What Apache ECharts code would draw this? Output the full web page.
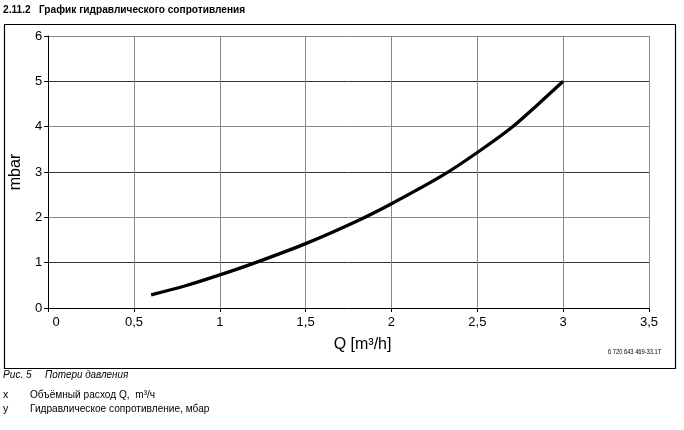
<!DOCTYPE html>
<html>
<head>
<meta charset="utf-8">
<script src="https://cdn.jsdelivr.net/npm/echarts@6/dist/echarts.min.js"></script>
<style>
  html, body { margin: 0; padding: 0; background: #fff; }
  #chart { width: 684px; height: 430px; }
</style>
</head>
<body>
<div id="chart"></div>
<script>
// расход Q, m3/h  и  сопротивление, mbar
var flowQ = [0.6, 0.8, 1.0, 1.2, 1.5, 1.8, 2.0, 2.3, 2.5, 2.7, 2.85, 3.0]
var pressureLoss = [0.29, 0.49, 0.73, 0.99, 1.42, 1.92, 2.30, 2.93, 3.43, 3.98, 4.48, 5.0]
var xTicks = [0, 0.5, 1, 1.5, 2, 2.5, 3, 3.5]
var yTicks = [0, 1, 2, 3, 4, 5, 6]

var font = 'Liberation Sans, Arial, sans-serif'
var chart = echarts.init(document.getElementById('chart'))

var points = flowQ.map(function (q, i) { return [q, pressureLoss[i]] })

// подпись под графиком, чуть сжатая по ширине
function caption(text, x, y, style, sx) {
    return {
        type: 'text', x: x, y: y, scaleX: sx || 0.92,
        style: { text: text, font: style + ' "Liberation Sans", sans-serif', fill: '#000' }
    }
}

chart.setOption({
    animation: false,
    grid: { left: 47, right: 35, top: 36, bottom: 122, containLabel: false },
    xAxis: {
        type: 'value',
        min: xTicks[0],
        max: xTicks[xTicks.length - 1],
        interval: 0.5,
        name: 'Q [m³/h]',
        nameLocation: 'middle',
        nameGap: 29,
        nameTextStyle: { fontFamily: font, fontSize: 16, color: '#000', padding: [0, 0, 0, 28] },
        axisLine: { lineStyle: { color: '#000', width: 1 } },
        axisTick: { show: true, length: 4, lineStyle: { color: '#000' } },
        axisLabel: {
            fontFamily: font, fontSize: 13, color: '#000', margin: 8,
            formatter: function (v) {
                if (v === 0) return '{z|0}'
                return String(v).replace('.', ',')
            },
            rich: { z: { fontFamily: font, fontSize: 13, color: '#000', padding: [0, 0, 0, 16] } }
        },
        splitLine: { show: true, lineStyle: { color: '#888', width: 1 } }
    },
    yAxis: {
        type: 'value',
        min: yTicks[0],
        max: yTicks[yTicks.length - 1],
        interval: 1,
        name: 'mbar',
        nameLocation: 'middle',
        nameRotate: 90,
        nameGap: 23,
        nameTextStyle: { fontFamily: font, fontSize: 16, color: '#000' },
        axisLine: { show: true, lineStyle: { color: '#000', width: 1 } },
        axisTick: { show: true, length: 4, lineStyle: { color: '#000' } },
        axisLabel: { fontFamily: font, fontSize: 13, color: '#000', margin: 6 },
        splitLine: { show: true, lineStyle: { color: ['#888', '#333'], width: 1 } }
    },
    series: [{
        type: 'line',
        data: points,
        smooth: 0.3,
        symbol: 'none',
        lineStyle: { color: '#000', width: 3.3 }
    }],
    graphic: [
        caption('2.11.2   График гидравлического сопротивления', 3, 4, 'bold 11.5px', 0.88),
        {
            type: 'rect', left: 2, top: 22,
            shape: { width: 671, height: 344 },
            style: { fill: 'none', stroke: '#000', lineWidth: 1.2 }
        },
        caption('6 720 643 469-33.1T', 608, 349, '7px', 0.82),
        caption('Рис. 5', 3, 369, 'italic 11.5px', 0.88),
        caption('Потери давления', 45, 369, 'italic 11.5px', 0.86),
        caption('x', 3, 389, '11.5px'),
        caption('Объёмный расход Q,  m³/ч', 30, 389, '11.5px', 0.88),
        caption('y', 3, 403, '11.5px'),
        caption('Гидравлическое сопротивление, мбар', 30, 403, '11.5px', 0.88)
    ]
})
</script>
</body>
</html>
